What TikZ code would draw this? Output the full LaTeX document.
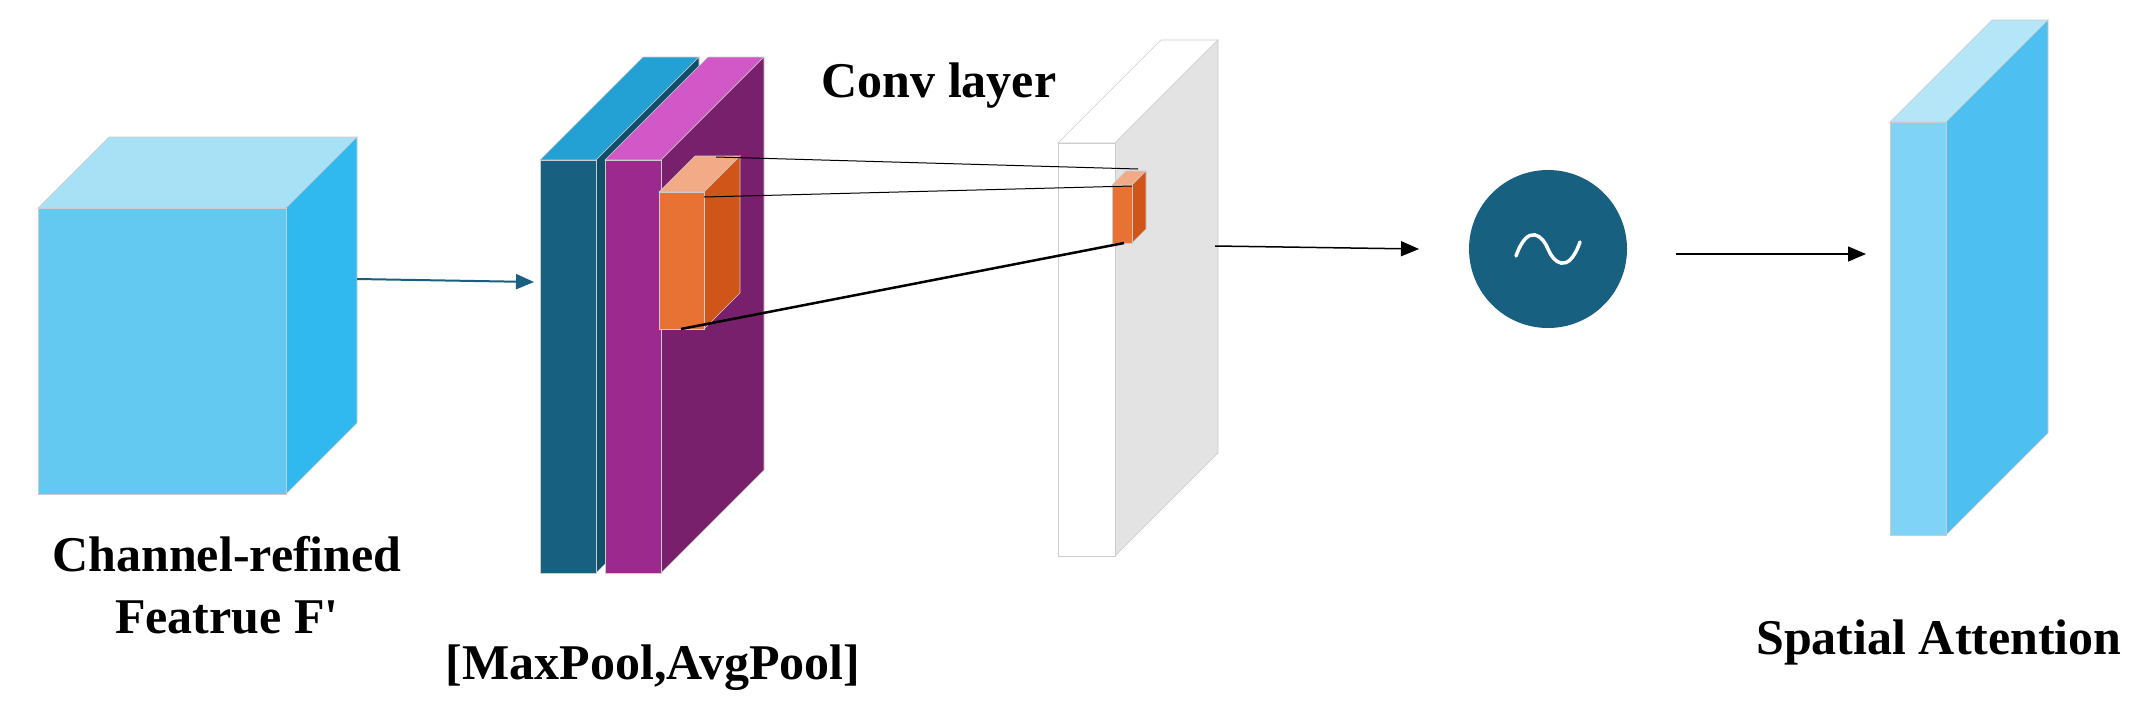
\documentclass[tikz,border=0pt]{standalone}
\usepackage{fontspec}
\setmainfont{Liberation Serif}
\usepackage{textcomp}
\usetikzlibrary{arrows.meta}
\definecolor{cf}{HTML}{63C9F1}\definecolor{ct}{HTML}{A8E1F6}\definecolor{cs}{HTML}{30B9EE}
\definecolor{bf}{HTML}{17607F}\definecolor{bt}{HTML}{23A0D4}\definecolor{bs}{HTML}{104F6B}
\definecolor{pf}{HTML}{9C2A8E}\definecolor{pt}{HTML}{D158C6}\definecolor{ps}{HTML}{78206C}
\definecolor{of}{HTML}{E87233}\definecolor{ot}{HTML}{F2AB86}\definecolor{os}{HTML}{CF5519}
\definecolor{gs}{HTML}{E3E3E3}
\definecolor{ff}{HTML}{7FD3F6}\definecolor{ft}{HTML}{B5E6F8}\definecolor{fs}{HTML}{4DBFF0}
\newcommand\myprism[8]{%
 \fill[#7,draw=black!20,line width=0.6pt] (#1,#2) -- ++(#5,-#5) -- (#3+#5,#2-#5) -- (#3,#2) -- cycle;
 \fill[#8,draw=black!20,line width=0.6pt] (#3,#2) -- (#3+#5,#2-#5) -- (#3+#5,#4-#5) -- (#3,#4) -- cycle;
 \fill[#6,draw=black!20,line width=0.6pt] (#1,#2) rectangle (#3,#4);}
\tikzset{lbl/.style={font=\fontsize{50}{62}\selectfont\bfseries,align=center},
 arr/.style={-{Triangle[length=18pt,width=15pt]},line width=2pt,color=bf},
 arrk/.style={-{Triangle[length=18pt,width=15pt]},line width=1.5pt,color=black,fill=bf}}
\begin{document}
\begin{tikzpicture}[x=1pt,y=-1pt]
\useasboundingbox (0,0) rectangle (2133,715);
% input cube
\myprism{38}{208}{286}{494}{71}{cf}{ct}{cs}
% pooled slabs
\myprism{540}{160}{596}{573}{103}{bf}{bt}{bs}
\myprism{605}{160}{661}{573}{103}{pf}{pt}{ps}
\myprism{659}{192}{704}{329}{36}{of}{ot}{os}
% conv layer
\myprism{1058}{143}{1115}{556}{103}{white}{white}{gs}
\myprism{1112}{185}{1132}{243}{14}{of}{ot}{os}
% output
\myprism{1890}{122}{1946}{535}{102}{ff}{ft}{fs}
% named points
\coordinate (a1) at (716,157); \coordinate (b1) at (1138,169);
\coordinate (a2) at (704,197); \coordinate (b2) at (1132,186);
\coordinate (a3) at (681,329); \coordinate (b3) at (1124,243);
\coordinate (c1) at (357,279); \coordinate (p1) at (534,282);
\coordinate (c2) at (1215,246); \coordinate (s1) at (1419,249);
\coordinate (s2) at (1676,254); \coordinate (o1) at (1866,254);
\node[circle,fill=bf,minimum size=158pt,inner sep=0] (sig) at (1548,249) {};
\draw[white,line width=3.5pt,line cap=round] (1516,256) .. controls (1528,222) and (1543,236) .. (1548,249) .. controls (1553,262) and (1568,276) .. (1580,242);
\draw[line width=1pt] (a1) -- (b1);
\draw[line width=1pt] (a2) -- (b2);
\draw[line width=2.5pt] (a3) -- (b3);
\draw[arr] (c1) -- (p1);
\draw[arrk] (c2) -- (s1);
\draw[arrk] (s2) -- (o1);
\node[lbl] (t1) at (227,585) {Channel-refined\\Featrue F\textquotesingle};
\node[lbl] (t2) at (653,668) {[MaxPool,AvgPool]};
\node[lbl] (t3) at (939,86) {Conv layer};
\node[lbl] (t4) at (1939,642) {Spatial Attention};
\end{tikzpicture}
\end{document}
